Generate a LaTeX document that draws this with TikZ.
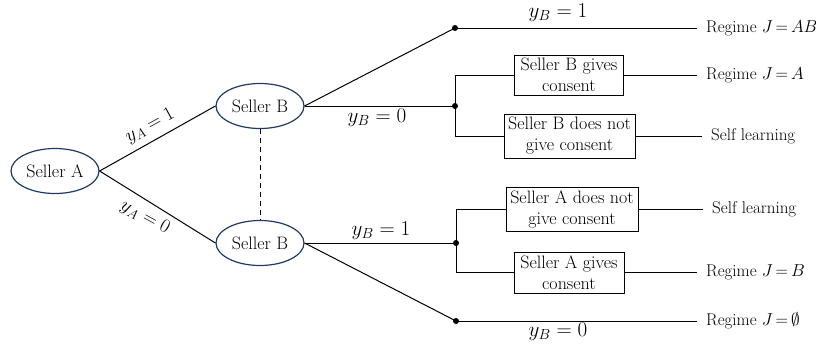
\documentclass[tikz,border=0pt]{standalone}
\usetikzlibrary{shapes.geometric}
\definecolor{sellerblue}{RGB}{31,56,100}
\newcommand{\regimetext}[1]{Regime $\thickmuskip=3mu\relax J = #1$}
\begin{document}
\begin{tikzpicture}[x=1pt,y=-1pt,
 every node/.style={font=\fontsize{18}{21}\selectfont},
 seller/.style={ellipse, draw=sellerblue, line width=1.2pt, minimum width=88pt, minimum height=45pt, inner sep=0pt},
 choice/.style={draw, line width=1pt, align=center, inner sep=0pt},
 conn/.style={line width=1pt},
 junction/.style={circle, fill, inner sep=0pt, minimum size=6pt},
 outcome/.style={anchor=west, inner xsep=9pt, inner ysep=0pt, font=\fontsize{17}{20}\selectfont},
 lbl/.style={inner sep=0pt, transform shape, scale=#1},
 lbl/.default=1.22]
\useasboundingbox (0,0) rectangle (816,343);
% sellers
\node[seller] (SA) at (55,171) {Seller A};
\node[seller] (SBt) at (260,106) {Seller B};
\node[seller] (SBb) at (260,243) {Seller B};
% junctions
\node[junction] (Jt) at (455,28) {};
\node[junction] (J1) at (455,106) {};
\node[junction] (J2) at (456,243) {};
\node[junction] (Jb) at (456,321) {};
% boxes
\node[choice, minimum width=109pt, minimum height=40pt] (B1) at (569,75) {Seller B gives\\consent};
\node[choice, minimum width=131pt, minimum height=44pt] (B2) at (569.5,136) {Seller B does not\\give consent};
\node[choice, minimum width=132pt, minimum height=44pt] (B3) at (572,209) {Seller A does not\\give consent};
\node[choice, minimum width=110pt, minimum height=41pt] (B4) at (569,272.5) {Seller A gives\\consent};
% outcomes
\node[outcome] (R0) at (697,28) {\regimetext{AB}};
\node[outcome] (R1) at (697,75) {\regimetext{A}};
\node[outcome] (R2) at (702,136) {Self learning};
\node[outcome] (R3) at (703,209) {Self learning};
\node[outcome] (R4) at (697,272.5) {\regimetext{B}};
\node[outcome] (R5) at (697,321) {\regimetext{\emptyset}};
% connectors
\draw[conn] (SA.east) -- (SBt.west);
\draw[conn] (SA.east) -- (SBb.west);
\draw[conn, dash pattern=on 5pt off 4pt] (SBt.south) -- (SBb.north);
\draw[conn] (SBt.east) -- (Jt.center);
\draw[conn] (SBt.east) -- (J1.center);
\draw[conn] (SBb.east) -- (J2.center);
\draw[conn] (SBb.east) -- (Jb.center);
\draw[conn] (Jt.center) -- (R0.west);
\draw[conn] (Jb.center) -- (R5.west);
\draw[conn] (J1.center) |- (B1.west);
\draw[conn] (J1.center) |- (B2.west);
\draw[conn] (J2.center) |- (B3.west);
\draw[conn] (J2.center) |- (B4.west);
\draw[conn] (B1.east) -- (R1.west);
\draw[conn] (B2.east) -- (R2.west);
\draw[conn] (B3.east) -- (R3.west);
\draw[conn] (B4.east) -- (R4.west);
% labels
\node[lbl=1.12, rotate=28.7] (LA1) at (150,126) {$y_A = 1$};
\node[lbl=1.12, rotate=-28.7] (LA0) at (145,217) {$y_A = 0$};
\node[lbl] (LB1t) at (558,13) {$y_B = 1$};
\node[lbl] (LB0t) at (377,118) {$y_B = 0$};
\node[lbl] (LB1b) at (381,231) {$y_B = 1$};
\node[lbl] (LB0b) at (558,332) {$y_B = 0$};
\end{tikzpicture}
\end{document}
